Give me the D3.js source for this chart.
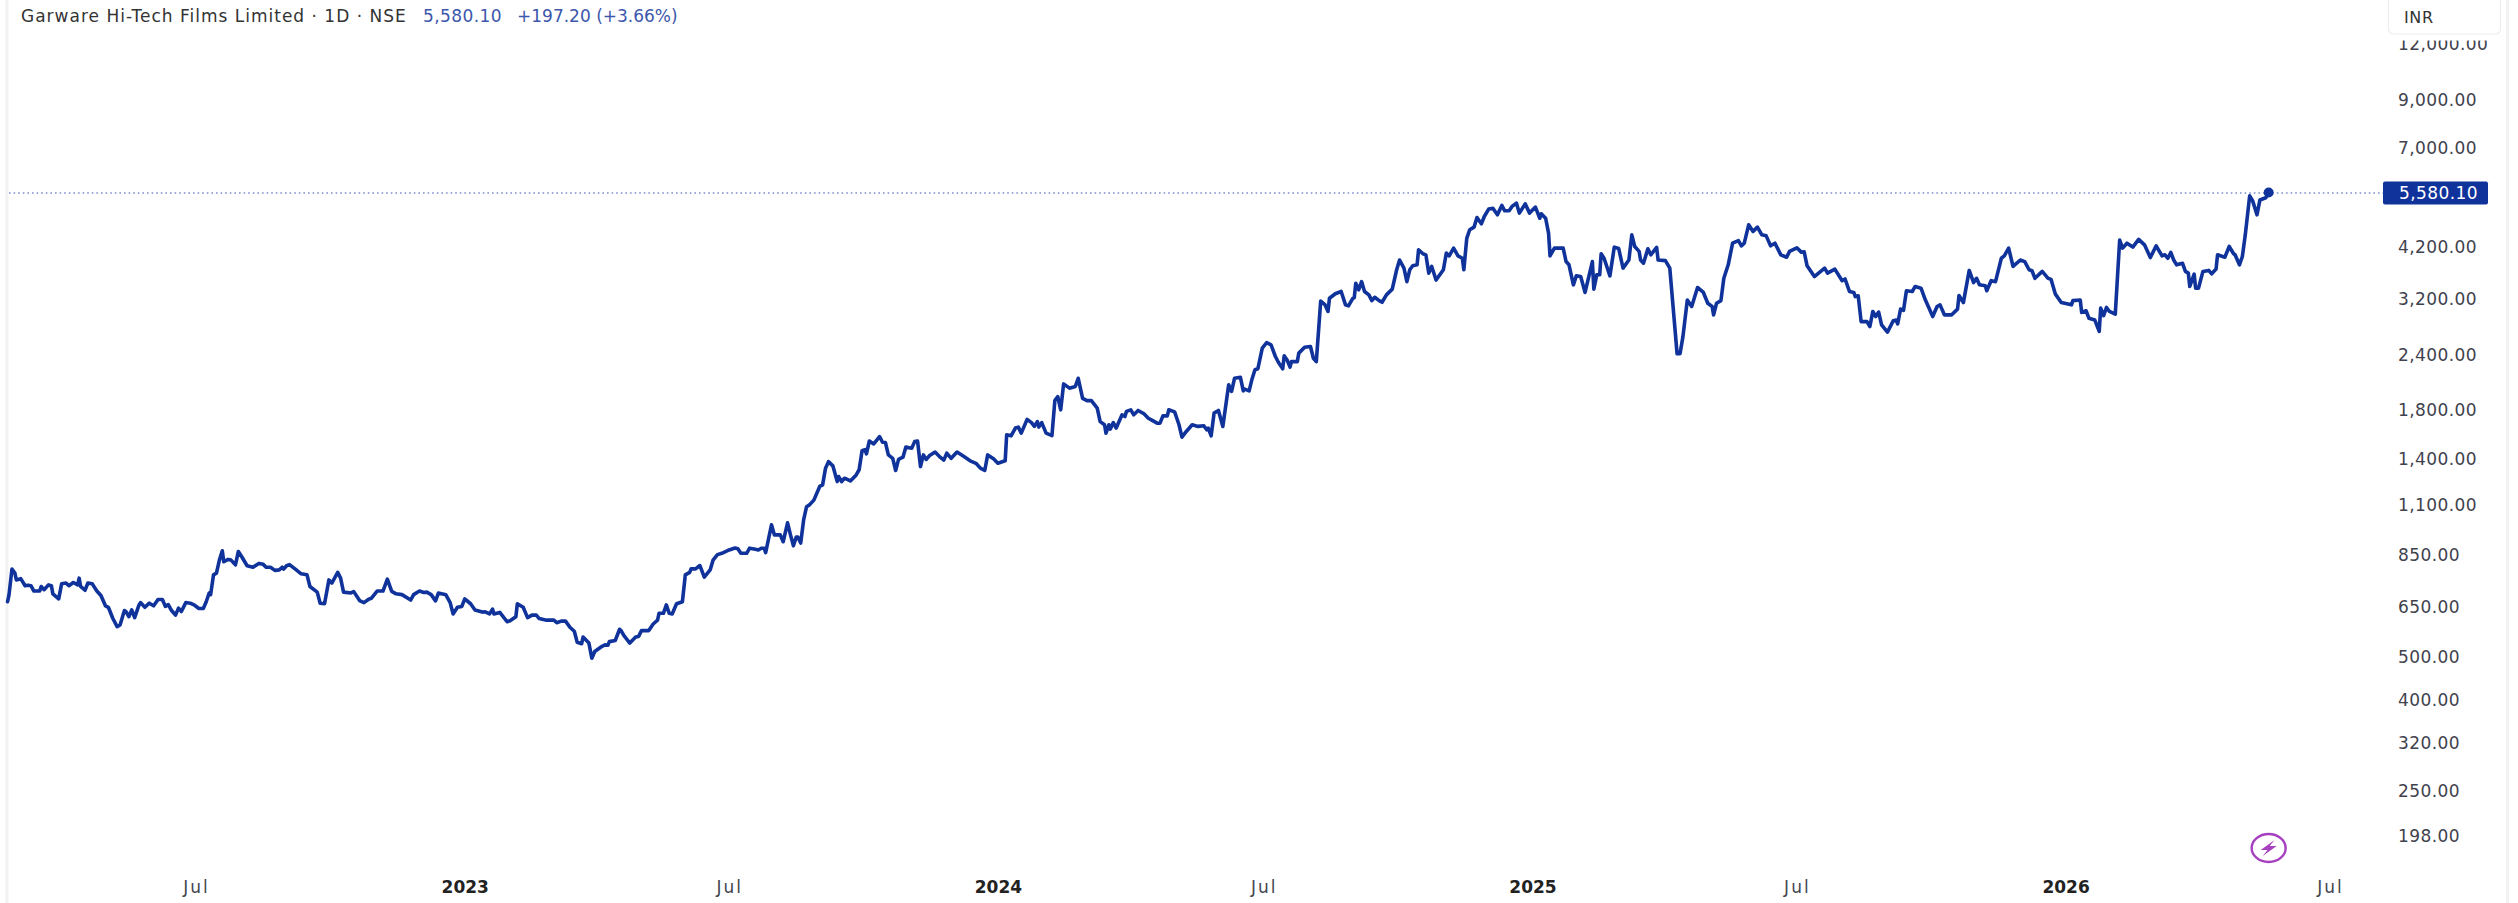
<!DOCTYPE html>
<html>
<head>
<meta charset="utf-8">
<title>Garware Hi-Tech Films Limited</title>
<script src="https://cdn.jsdelivr.net/npm/d3@7"></script>
<style>
  html, body { margin: 0; padding: 0; background: #fff; overflow: hidden; }
  svg { display: block; }
  text { font-family: "DejaVu Sans", sans-serif; }
  .tick text { fill: #3f424d; }
</style>
</head>
<body>
<div id="chart"></div>
<script>
// Daily close (log price axis)
// Days are counted from firstDay
const firstDay = '2022-02-22';
const sessionDays = [
  0,1,3,5,6,9,12,14,16,18,22,23,25,28,30,31,35,37,40,42,45,48,49,50,53,55,58,61,64,67,69,72,75,77,80,81,83,85,87,90,91,94,97,100,103,106,108,110,112,115,117,119,122,125,128,131,134,136,138,139,141,143,145,147,148,151,153,156,158,160,164,168,172,175,177,180,183,186,188,189,191,193,197,201,205,207,212,214,217,220,222,226,228,230,235,237,241,244,247,249,253,257,260,263,266,270,276,278,282,
  285,287,290,293,295,300,303,305,308,311,313,317,320,325,327,330,332,333,337,342,344,348,349,353,356,359,362,364,369,374,376,379,382,385,388,390,393,394,398,400,402,407,409,411,412,416,419,420,422,426,430,432,434,439,442,445,446,449,451,453,455,458,462,464,467,468,471,474,477,481,483,486,489,494,498,500,502,506,508,512,514,516,518,519,
  523,525,529,531,534,536,538,540,541,543,545,547,549,552,556,558,560,562,565,568,569,571,573,577,581,583,585,587,588,590,593,597,599,601,603,606,608,610,613,615,619,621,623,625,627,629,631,635,638,641,643,646,650,654,659,663,666,669,671,675,678,683,684,687,690,692,694,698,701,703,705,706,708,711,715,717,719,721,723,727,731,733,736,739,742,746,748,751,752,754,755,757,759,763,765,766,769,771,774,778,781,784,787,789,791,794,795,799,802,804,807,811,815,819,821,822,824,826,829,832,836,838,840,844,
  846,847,850,852,854,856,859,862,865,868,870,873,874,876,878,879,883,884,888,892,894,896,899,902,904,905,909,913,916,918,921,922,923,925,927,929,932,934,936,939,941,944,948,951,953,956,958,960,962,965,966,969,971,973,975,978,983,985,987,990,993,996,997,999,1001,
  1004,1006,1009,1011,1014,1017,1020,1023,1025,1028,1030,1033,1035,1039,1042,1046,1049,1050,1053,1055,1056,1059,1065,1067,1069,1072,1074,1077,1080,1085,1086,1088,1090,1091,1093,1097,1100,1103,1106,1110,1112,1114,1117,1118,1120,1123,1125,1129,1130,1135,1138,1143,1145,1147,1150,1153,1157,1161,1164,1167,1168,1170,1173,1175,1178,1181,1185,1187,1189,1192,1195,1198,1201,1204,1207,1210,1214,1218,1220,1225,1228,1230,1232,1237,1244,1246,1251,1256,1258,1261,1264,1265,1267,1269,1273,1275,1277,1279,1281,1283,1287,1291,1293,1294,1296,
  1298,1300,1304,1306,1310,1313,1315,1318,1321,1323,1326,1331,1335,1336,1339,1343,1346,1348,1350,1354,1355,1358,1361,1365,1367,1370,1373,1378,1381,1384,1386,1388,1393,1397,1399,1402,1406,1413,1414,1419,1420,1423,1425,1429,1432,1433,1435,1437,1439,1443,1446,1448,1451,1455,1459,1463,1467,1471,1475,1477,1479,1481,1483,1485,1489,1491,1493,1494,1497,1498,1500,1503,1507,1509,1512,1513,1518,1521,1524,1525,1528,1530,1532,1535,1537,1540,1542,1546,1548
];
const closePrices = [
  669,694,792,776,749,754,727,729,727,707,707,724,712,730,727,697,679,734,737,727,739,730,756,724,710,737,734,708,690,655,650,614,588,593,639,636,619,641,616,658,666,650,664,655,677,677,653,659,641,624,647,636,666,664,657,646,646,669,700,694,769,776,830,871,823,833,830,810,868,848,806,800,816,812,800,800,787,789,800,792,806,811,792,773,769,724,703,664,662,749,737,779,756,703,700,705,673,666,677,681,707,707,752,706,697,694,675,694,707,
  702,703,694,672,700,694,666,628,650,653,679,662,641,634,635,628,644,628,633,603,606,619,662,650,616,624,624,613,608,608,600,605,605,586,574,542,538,557,540,499,517,531,535,534,544,547,580,576,561,540,557,559,576,576,596,608,630,630,658,630,628,662,669,769,779,794,793,807,760,789,830,854,860,875,884,880,860,860,883,878,875,883,883,863,
  997,946,946,913,1007,946,894,936,936,907,1022,1095,1105,1133,1216,1226,1337,1383,1353,1247,1280,1247,1269,1251,1291,1326,1463,1471,1440,1539,1516,1575,1529,1527,1432,1407,1321,1399,1415,1491,1483,1534,1539,1348,1432,1399,1425,1453,1420,1394,1445,1407,1453,1425,1389,1371,1337,1321,1432,1404,1371,1389,1589,1581,1646,1654,1603,1722,1693,1660,1702,1654,1693,1603,1583,1897,1937,1809,2069,2024,2042,2130,1920,1897,1897,1825,1702,1674,1603,1674,1637,1693,1646,1763,1747,1794,1809,1763,1803,1772,1732,1710,1688,1688,1753,1753,1809,1790,1674,1570,1617,1674,1660,1665,1631,1646,1581,1778,1803,1660,2059,1990,2130,2142,
  1996,2014,1996,2123,2227,2239,2491,2563,2533,2385,2315,2238,2393,2342,2257,2323,2323,2427,2503,2512,2363,2323,3180,3117,3012,3225,3301,3341,3117,3101,3225,3236,3487,3370,3516,3341,3283,3186,3242,3186,3159,3283,3382,3739,3933,3771,3516,3739,3817,3836,4147,4062,4040,3674,3804,3545,3739,4076,4019,4183,4019,3969,3739,4401,4600,
  4664,4901,4744,4927,5121,5139,4971,5218,5076,5076,5192,5280,5015,5262,5015,5174,4883,4998,4883,4521,4019,4183,4183,3901,3836,3458,3622,3610,3324,3901,3382,3643,3643,4062,3969,3622,4205,4176,3771,3933,4481,4219,4112,3933,3868,4169,4040,4198,3933,3920,3771,2419,2419,2644,3196,3091,3411,3324,3143,3091,2960,3143,3186,3577,3836,4291,4348,4233,4291,4720,4561,4664,4481,4457,4233,4291,4040,3990,4112,4190,4097,4104,3817,3610,3771,3674,3752,3533,3564,3341,3324,3254,3266,2857,2857,2786,3012,2934,3002,2810,2706,2871,2881,2824,3049,
  3028,3353,3341,3429,3399,3196,3091,2934,3091,3117,2960,2960,3049,3272,3154,3726,3498,3577,3458,3441,3353,3533,3516,3969,4019,4183,3804,3933,3901,3739,3720,3577,3707,3577,3558,3295,3154,3117,3186,3196,2997,3023,2907,2881,2716,3065,2949,3075,3012,2970,4362,4183,4290,4205,4376,4255,3983,4233,4019,4040,3969,4090,3933,3836,3868,3707,3674,3429,3655,3399,3399,3707,3726,3661,3752,4040,3990,4219,4062,4040,3836,4005,4481,5485,5350,4971,5368,5430,5580.10
];

const priceTicks = [198, 250, 320, 400, 500, 650, 850, 1100, 1400, 1800, 2400, 3200, 4200, 7000, 9000, 12000];
const timeTicks = ['2022-07-01', '2023-01-01', '2023-07-01', '2024-01-01', '2024-07-01', '2025-01-01', '2025-07-01', '2026-01-01', '2026-07-01'];
const timeLabels = ['Jul', '2023', 'Jul', '2024', 'Jul', '2025', 'Jul', '2026', 'Jul'];

const titleText = 'Garware Hi-Tech Films Limited · 1D · NSE';
const lastText = '5,580.10';
const changeText = '+197.20 (+3.66%)';
const currencyText = 'INR';
const lastPrice = 5580.10;

// Page and chart parameters
const svgWidth = 2518;
const svgHeight = 903;
const lineColor = '#10329b';

const svg = d3.select('#chart').append('svg')
  .attr('width', svgWidth)
  .attr('height', svgHeight);

svg.append('rect').attr('width', svgWidth).attr('height', svgHeight).attr('fill', '#fff');

// thin grey page edges
svg.append('rect').attr('x', 5.5).attr('y', 0).attr('width', 3).attr('height', svgHeight).attr('fill', '#f2f2f2');
svg.append('rect').attr('x', 2506).attr('y', 0).attr('width', 3).attr('height', svgHeight).attr('fill', '#f2f2f2');

// scales
const parseDay = d3.utcParse('%Y-%m-%d');
const xScale = d3.scaleUtc()
  .domain([parseDay(timeTicks[0]), parseDay(timeTicks[timeTicks.length - 1])])
  .range([196, 2330]);
const yScale = d3.scaleLog()
  .domain([198, 9000])
  .range([836.6, 100.3]);

const start = parseDay(firstDay);
const points = sessionDays.map((d, i) => ({ date: d3.utcDay.offset(start, d), close: closePrices[i] }));
const lastPoint = points[points.length - 1];

// last price dotted line
svg.append('line')
  .attr('x1', 9)
  .attr('x2', 2383)
  .attr('y1', yScale(lastPrice) + 0.5)
  .attr('y2', yScale(lastPrice) + 0.5)
  .attr('stroke', '#7b8dcf')
  .attr('stroke-width', 1.6)
  .attr('stroke-dasharray', '1.6 3');

// price line
const line = d3.line()
  .x(d => xScale(d.date))
  .y(d => yScale(d.close));

svg.append('path')
  .datum(points)
  .attr('fill', 'none')
  .attr('stroke', lineColor)
  .attr('stroke-width', 3.6)
  .attr('stroke-linejoin', 'round')
  .attr('stroke-linecap', 'round')
  .attr('d', line);

svg.append('circle')
  .attr('cx', xScale(lastPoint.date))
  .attr('cy', yScale(lastPoint.close))
  .attr('r', 5)
  .attr('fill', lineColor);

// bottom axis
const xAxis = d3.axisBottom(xScale)
  .tickValues(timeTicks.map(parseDay))
  .tickSize(0)
  .tickFormat((d, i) => timeLabels[i]);

const xGroup = svg.append('g')
  .attr('transform', 'translate(0, 887)')
  .call(xAxis);
xGroup.select('.domain').remove();
xGroup.selectAll('text')
  .attr('y', 0)
  .attr('dy', '0.36em')
  .style('font-size', '17px')
  .style('letter-spacing', (d, i) => timeLabels[i] === 'Jul' ? '2px' : '0')
  .style('font-weight', (d, i) => timeLabels[i] === 'Jul' ? 'normal' : 'bold')
  .style('fill', (d, i) => timeLabels[i] === 'Jul' ? '#44474f' : '#222');

// right axis
const yAxis = d3.axisRight(yScale)
  .tickValues(priceTicks)
  .tickSize(0)
  .tickFormat(d3.format(',.2f'));

const yGroup = svg.append('g')
  .attr('transform', 'translate(2398, -1.2)')
  .call(yAxis);
yGroup.select('.domain').remove();
yGroup.selectAll('text')
  .attr('x', 0)
  .attr('dy', '0.36em')
  .style('font-size', '17px')
  .style('letter-spacing', '0.4px');

// currency box sits over the top tick
svg.append('rect')
  .attr('x', 2388)
  .attr('y', 30)
  .attr('width', 113)
  .attr('height', 10.5)
  .attr('fill', '#fff');

svg.append('rect')
  .attr('x', 2388.5)
  .attr('y', -6)
  .attr('width', 112)
  .attr('height', 40)
  .attr('rx', 5)
  .attr('fill', '#fff')
  .attr('stroke', '#ecedf0')
  .attr('stroke-width', 1.2);

svg.append('text')
  .attr('x', 2404)
  .attr('y', 17)
  .attr('dy', '0.36em')
  .style('font-size', '16px')
  .style('letter-spacing', '0.6px')
  .attr('fill', '#333')
  .text(currencyText);

// last price label
svg.append('rect')
  .attr('x', 2383)
  .attr('y', 181.5)
  .attr('width', 105)
  .attr('height', 23)
  .attr('rx', 2)
  .attr('fill', lineColor);

svg.append('text')
  .attr('x', 2399)
  .attr('y', 192.5)
  .attr('dy', '0.36em')
  .style('font-size', '17px')
  .style('letter-spacing', '0.4px')
  .attr('fill', '#fff')
  .text(lastText);

// legend at the top
const legend = svg.append('text')
  .attr('y', 16)
  .attr('dy', '0.36em')
  .style('font-size', '17px');

legend.append('tspan').attr('x', 21).attr('fill', '#333').style('letter-spacing', '1px').text(titleText);
legend.append('tspan').attr('x', 423).attr('fill', '#3c57ab').style('letter-spacing', '0.4px').text(lastText);
legend.append('tspan').attr('x', 517).attr('fill', '#3c57ab').text(changeText);

// lightning badge under the last bar
const badge = svg.append('g')
  .attr('transform', `translate(${xScale(lastPoint.date)}, 848)`);

badge.append('ellipse')
  .attr('rx', 17)
  .attr('ry', 14)
  .attr('fill', '#fff')
  .attr('stroke', '#a63fc0')
  .attr('stroke-width', 2.4);

badge.append('path')
  .attr('d', 'M6 -8 L-8 2 L-1 2 L-6 8 L8 -2 L1 -2 Z')
  .attr('fill', '#a63fc0');
</script>
</body>
</html>
